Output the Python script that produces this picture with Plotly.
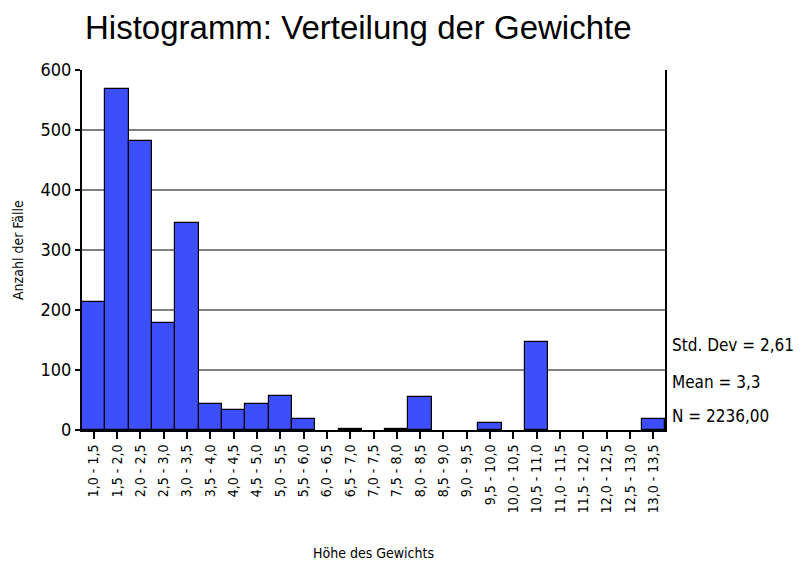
import plotly.graph_objects as go

categories = ["1,0 - 1,5", "1,5 - 2,0", "2,0 - 2,5", "2,5 - 3,0", "3,0 - 3,5",
              "3,5 - 4,0", "4,0 - 4,5", "4,5 - 5,0", "5,0 - 5,5", "5,5 - 6,0",
              "6,0 - 6,5", "6,5 - 7,0", "7,0 - 7,5", "7,5 - 8,0", "8,0 - 8,5",
              "8,5 - 9,0", "9,0 - 9,5", "9,5 - 10,0", "10,0 - 10,5", "10,5 - 11,0",
              "11,0 - 11,5", "11,5 - 12,0", "12,0 - 12,5", "12,5 - 13,0", "13,0 - 13,5"]
counts = [214, 568, 481, 178, 345, 43, 33, 43, 57, 18,
          0, 1, 0, 1, 55, 0, 0, 11, 0, 146,
          0, 0, 0, 0, 18]
y_ticks = [0, 100, 200, 300, 400, 500, 600]
stats_lines = ["Std. Dev = 2,61", "Mean = 3,3", "N = 2236,00"]
stats_y = [142, 80, 23]

NARROW = "DejaVu Sans Condensed, Roboto, sans-serif"

fig = go.Figure()
fig.add_trace(go.Bar(
    x=categories, y=[c if c > 0 else None for c in counts],
    marker=dict(color="#3d4ffb", line=dict(color="black", width=1.2)),
    hoverinfo="x+y",
))

fig.update_layout(
    width=795, height=555,
    margin=dict(l=74, r=138, t=62, b=133),
    paper_bgcolor="white", plot_bgcolor="white",
    bargap=0,
    showlegend=False,
    font=dict(family=NARROW, color="black"),
)
fig.update_xaxes(
    type="category",
    showline=True, linecolor="black", linewidth=2,
    ticks="outside", ticklen=7, tickwidth=2, tickcolor="black",
    tickangle=-90, tickfont=dict(size=14, family=NARROW),
    showgrid=False, zeroline=False,
)
fig.update_yaxes(
    range=[0, 600],
    tickvals=y_ticks,
    showline=True, linecolor="black", linewidth=2, mirror=True,
    ticks="outside", ticklen=5, tickwidth=2, tickcolor="black",
    tickfont=dict(size=18, family=NARROW),
    showgrid=True, gridcolor="#808080", gridwidth=1.5,
    zeroline=False,
)

fig.add_annotation(text="Histogramm: Verteilung der Gewichte", xref="paper", yref="paper",
                   x=0, xshift=1, y=1, yshift=43, xanchor="left", yanchor="middle",
                   showarrow=False, font=dict(size=33, family="Liberation Sans, Arial, sans-serif"))
fig.add_annotation(text="Anzahl der Fälle", xref="paper", yref="paper",
                   x=0, xshift=-64, y=0.5, textangle=-90,
                   xanchor="center", yanchor="middle", showarrow=False,
                   font=dict(size=14, family=NARROW))
fig.add_annotation(text="Höhe des Gewichts", xref="paper", yref="paper",
                   x=0.5, y=0, yshift=-123, xanchor="center", yanchor="middle",
                   showarrow=False, font=dict(size=14, family=NARROW))
for line, yv in zip(stats_lines, stats_y):
    fig.add_annotation(text=line, xref="paper", yref="y", x=1, xshift=5, y=yv,
                       xanchor="left", yanchor="middle", showarrow=False,
                       font=dict(size=17, family=NARROW))

fig.write_html("out.html")
